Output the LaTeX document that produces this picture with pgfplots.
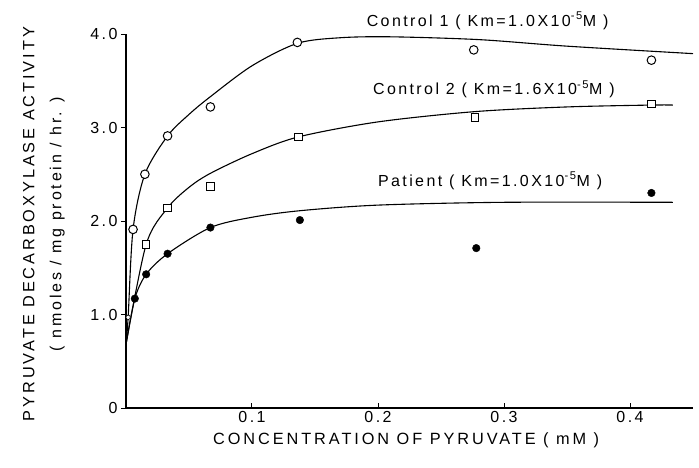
\documentclass[border=0pt]{standalone}
\usepackage{fontspec}
\setmainfont{Liberation Sans}[LetterSpace=15]
\newfontfamily\widefont{Liberation Sans}[LetterSpace=18]
\usepackage{pgfplots}
\pgfplotsset{compat=1.18}
\newcommand{\lbl}{\fontsize{16}{27}\selectfont}
\newcommand{\albl}{\widefont\fontsize{16.3}{27}\selectfont}
\begin{document}
\begin{tikzpicture}
\begin{axis}[
  width=567pt, height=374pt, scale only axis,
  xmin=0, xmax=0.45, ymin=0, ymax=4,
  axis lines=left, axis line style={-, line width=1.1pt},
  xtick={0.1,0.2,0.3,0.4}, xticklabels={0.1,0.2,0.3,0.4},
  ytick={0,1,2,3,4}, yticklabels={0,1.0,2.0,3.0,4.0},
  xtick align=inside, ytick align=outside,
  major tick length=5pt,
  tick style={line width=1pt, black},
  tick label style={font=\lbl},
  xlabel={CONCENTRATION OF PYRUVATE ( mM )},
  ylabel={PYRUVATE DECARBOXYLASE ACTIVITY\\{\lbl( nmoles / mg protein / hr. )}},
  xlabel style={font=\albl, at={(axis description cs:0.494,-0.086)}, anchor=center},
  ylabel style={font=\albl, align=center, at={(axis description cs:-0.145,0.492)}, anchor=center},
  clip=false,
]
% fitted curves
\addplot[black, line width=1.1pt, smooth, tension=0.5] coordinates {
 (0,0.68) (0.0017,0.97) (0.0056,1.91) (0.015,2.50) (0.033,2.91) (0.05,3.14) (0.067,3.33)
 (0.1,3.66) (0.136,3.90) (0.17,3.96) (0.21,3.97) (0.28,3.94) (0.35,3.87) (0.45,3.79)};
\addplot[black, line width=1.1pt, smooth, tension=0.5] coordinates {
 (0,0.68) (0.016,1.75) (0.033,2.14) (0.05,2.36) (0.067,2.51) (0.1,2.72) (0.137,2.90)
 (0.2,3.06) (0.277,3.17) (0.35,3.22) (0.417,3.24) (0.434,3.24)};
\addplot[black, line width=1.1pt, smooth, tension=0.5] coordinates {
 (0,0.68) (0.007,1.17) (0.016,1.43) (0.033,1.65) (0.067,1.93) (0.1,2.04) (0.138,2.11)
 (0.2,2.17) (0.3,2.20) (0.434,2.20)};
% data points
\addplot[only marks, mark=*, mark size=4.3pt, mark options={fill=white, draw=black, line width=1pt}] coordinates {
 (0.0056,1.91) (0.015,2.50) (0.033,2.91) (0.067,3.22) (0.136,3.91) (0.276,3.83) (0.417,3.72)};
\addplot[only marks, mark=*, mark size=2.2pt, mark options={fill=white, draw=black, line width=0.6pt}] coordinates {
 (0.0017,0.97)};
\addplot[only marks, mark=square*, mark size=3.8pt, mark options={fill=white, draw=black, line width=1pt}] coordinates {
 (0.016,1.75) (0.033,2.14) (0.067,2.37) (0.137,2.90) (0.277,3.11) (0.417,3.25)};
\addplot[only marks, mark=*, mark size=3.8pt, mark options={fill=black, draw=black}] coordinates {
 (0.007,1.17) (0.016,1.43) (0.033,1.65) (0.067,1.93) (0.138,2.01) (0.278,1.71) (0.417,2.30)};
\node[font=\lbl] at (axis cs:0.287,4.14) {Control 1 ( Km=1.0X10\textsuperscript{-5}M )};
\node[font=\lbl] at (axis cs:0.292,3.41) {Control 2 ( Km=1.6X10\textsuperscript{-5}M )};
\node[font=\lbl] at (axis cs:0.289,2.43) {Patient ( Km=1.0X10\textsuperscript{-5}M )};
\coordinate (O) at (rel axis cs:0,0);
\end{axis}
\pgfresetboundingbox
\path ([shift={(-126pt,-59pt)}]O) rectangle ([shift={(573pt,408pt)}]O);
\end{tikzpicture}
\end{document}
